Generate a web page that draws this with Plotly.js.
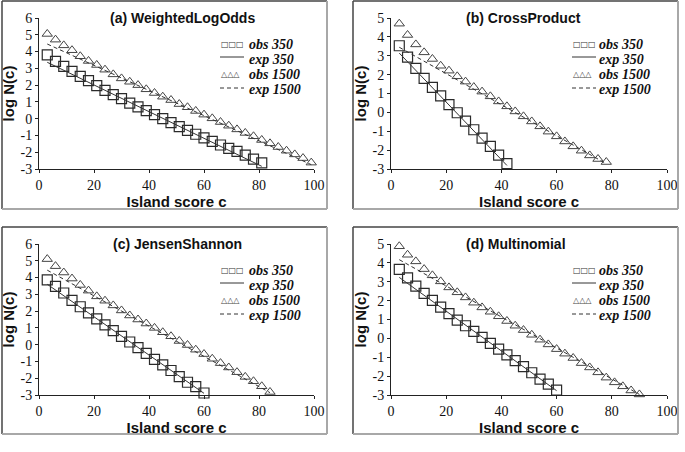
<!DOCTYPE html>
<html>
<head>
<meta charset="utf-8">
<script src="https://cdn.plot.ly/plotly-3.0.1.min.js"></script>
<style>html,body{margin:0;padding:0;background:#fff;}#chart{width:685px;height:452px;}</style>
</head>
<body>
<div id="chart"></div>
<script>
// ---- data ----
const scoreX = [3,6,9,12,15,18,21,24,27,30,33,36,39,42,45,48,51,54,57,60,63,66,69,72,75,78,81,84,87,90,93,96,99];

const panelTitles = ["(a) WeightedLogOdds", "(b) CrossProduct", "(c) JensenShannon", "(d) Multinomial"];
const legendLabels = ["obs 350", "exp 350", "obs 1500", "exp 1500"];
const xTickVals = [0,20,40,60,80,100];
const xTickText = ["0","20","40","60","80","100"];
const yTickVals6 = [-3,-2,-1,0,1,2,3,4,5,6];
const yTickText6 = ["-3","-2","-1","0","1","2","3","4","5","6"];
const yTickVals5 = [-3,-2,-1,0,1,2,3,4,5];
const yTickText5 = ["-3","-2","-1","0","1","2","3","4","5"];

// (a) WeightedLogOdds
const aObs350 = [3.8,3.42,3.12,2.82,2.52,2.27,1.97,1.69,1.43,1.19,0.93,0.70,0.48,0.24,0.0,-0.24,-0.48,-0.70,-0.93,-1.15,-1.35,-1.57,-1.77,-1.95,-2.17,-2.41,-2.64];
const aObs1500 = [5.05,4.71,4.37,4.08,3.72,3.44,3.2,2.92,2.64,2.40,2.2,2.0,1.75,1.53,1.31,1.11,0.87,0.68,0.46,0.24,0.02,-0.2,-0.42,-0.64,-0.85,-1.05,-1.27,-1.47,-1.69,-1.91,-2.13,-2.35,-2.62];
const aExp350X = [3,81], aExp350Y = [3.36,-2.84];
const aExp1500X = [3,99], aExp1500Y = [4.45,-2.74];

// (b) CrossProduct
const bObs350 = [3.53,2.93,2.33,1.80,1.32,0.87,0.41,-0.02,-0.46,-0.92,-1.36,-1.80,-2.26,-2.72];
const bObs1500 = [4.70,4.10,3.60,3.18,2.83,2.47,2.21,1.91,1.63,1.34,1.10,0.85,0.58,0.32,0.05,-0.21,-0.48,-0.74,-1.02,-1.27,-1.54,-1.80,-2.03,-2.28,-2.47,-2.63];
const bExp350X = [3,42], bExp350Y = [3.14,-2.81];
const bExp1500X = [3,78], bExp1500Y = [3.45,-2.72];

// (c) JensenShannon
const cObs350 = [3.86,3.48,3.08,2.64,2.26,1.90,1.54,1.18,0.84,0.50,0.16,-0.18,-0.52,-0.88,-1.20,-1.54,-1.90,-2.24,-2.50,-2.88];
const cObs1500 = [5.1,4.68,4.30,3.94,3.56,3.22,2.88,2.62,2.34,2.04,1.74,1.50,1.26,1.00,0.74,0.50,0.22,-0.02,-0.30,-0.56,-0.84,-1.10,-1.36,-1.64,-1.92,-2.18,-2.48,-2.82];
const cExp350X = [3,60], cExp350Y = [3.6,-2.9];
const cExp1500X = [3,84], cExp1500Y = [4.44,-2.86];

// (d) Multinomial
const dObs350 = [3.66,3.20,2.77,2.38,2.01,1.66,1.31,0.97,0.67,0.37,0.05,-0.27,-0.57,-0.87,-1.18,-1.50,-1.82,-2.16,-2.42,-2.74];
const dObs1500 = [4.88,4.43,4.08,3.67,3.34,3.02,2.70,2.44,2.17,1.89,1.64,1.41,1.17,0.92,0.67,0.44,0.19,-0.07,-0.32,-0.57,-0.81,-1.04,-1.31,-1.54,-1.80,-2.08,-2.33,-2.54,-2.76,-2.97];
const dExp350X = [3,60], dExp350Y = [3.23,-2.77];
const dExp1500X = [3,90], dExp1500Y = [4.17,-2.97];

const panels = [
  {obs350:aObs350, obs1500:aObs1500, e350x:aExp350X, e350y:aExp350Y, e1500x:aExp1500X, e1500y:aExp1500Y, ymax:6},
  {obs350:bObs350, obs1500:bObs1500, e350x:bExp350X, e350y:bExp350Y, e1500x:bExp1500X, e1500y:bExp1500Y, ymax:5},
  {obs350:cObs350, obs1500:cObs1500, e350x:cExp350X, e350y:cExp350Y, e1500x:cExp1500X, e1500y:cExp1500Y, ymax:6},
  {obs350:dObs350, obs1500:dObs1500, e350x:dExp350X, e350y:dExp350Y, e1500x:dExp1500X, e1500y:dExp1500Y, ymax:5}
];

// ---- layout geometry (pixels) ----
const W = 685, H = 452;
const px = v => v / W;
const py = v => 1 - v / H;
const geo = [
  {x0:39, x1:314, yt:18, yb:169, frame:[2,1,327,209], title:[183,18], leg:[220,247,[44,59,74,89]]},
  {x0:391, x1:667, yt:18, yb:169, frame:[353,1,678,209], title:[523,18], leg:[572,597,[44,59,74,89]]},
  {x0:39, x1:314, yt:244, yb:395, frame:[2,227,327,434], title:[177,244], leg:[220,247,[270,285,300,315]]},
  {x0:391, x1:667, yt:244, yb:395, frame:[353,227,678,434], title:[516,244], leg:[572,597,[270,285,300,315]]}
];

const serif = "Liberation Serif, Times New Roman, serif";
const tickFont = {family: serif, size: 14, color: "#111", weight: "normal", style: "normal"};
const axTitleFont = {family:"Liberation Sans, Arial, sans-serif", size:15, color:"#111", weight:"bold"};
const legFont = {family: serif, size:14, color:"#111", weight:"bold", style:"italic"};

const traces = [];
const layout = {
  width: W, height: H,
  margin: {l:0, r:0, t:0, b:0},
  font: {family: serif, size: 14, color: "#111"},
  paper_bgcolor: "#fff", plot_bgcolor: "#fff",
  showlegend: false,
  shapes: [], annotations: []
};

panels.forEach((p, i) => {
  const n = i + 1;
  const xa = n === 1 ? "x" : "x" + n;
  const ya = n === 1 ? "y" : "y" + n;
  traces.push({
    x: scoreX.slice(0, p.obs350.length), y: p.obs350, xaxis: xa, yaxis: ya,
    type: "scatter", mode: "markers", name: legendLabels[0], cliponaxis: false,
    marker: {symbol: "square-open", size: 10, color: "#2a2a2a", line: {width: 1.2}}
  });
  traces.push({
    x: p.e350x, y: p.e350y, xaxis: xa, yaxis: ya,
    type: "scatter", mode: "lines", name: legendLabels[1],
    line: {color: "#333", width: 1}
  });
  traces.push({
    x: scoreX.slice(0, p.obs1500.length), y: p.obs1500, xaxis: xa, yaxis: ya,
    type: "scatter", mode: "markers", name: legendLabels[2], cliponaxis: false,
    marker: {symbol: "triangle-up-open", size: 9, color: "#444", line: {width: 1}}
  });
  traces.push({
    x: p.e1500x, y: p.e1500y, xaxis: xa, yaxis: ya,
    type: "scatter", mode: "lines", name: legendLabels[3],
    line: {color: "#333", width: 1, dash: "4px,3px"}
  });

  const g = geo[i];
  const axCommon = {
    showline: true, linecolor: "#222", linewidth: 1,
    ticks: "outside", ticklen: 3, tickcolor: "#222", tickwidth: 1,
    showgrid: false, zeroline: false, tickfont: tickFont, fixedrange: true
  };
  layout["xaxis" + (n === 1 ? "" : n)] = Object.assign({}, axCommon, {
    domain: [px(g.x0), px(g.x1)], anchor: ya, range: [0, 100],
    tickmode: "array", tickvals: xTickVals, ticktext: xTickText,
    title: {text: "Island score c", font: axTitleFont, standoff: 4}
  });
  layout["yaxis" + (n === 1 ? "" : n)] = Object.assign({}, axCommon, {
    domain: [py(g.yb), py(g.yt)], anchor: xa, range: [-3, p.ymax],
    tickmode: "array",
    tickvals: p.ymax === 6 ? yTickVals6 : yTickVals5,
    ticktext: p.ymax === 6 ? yTickText6 : yTickText5,
    title: {text: "log N(c)", font: axTitleFont, standoff: 2}
  });

  // panel title
  layout.annotations.push({
    xref: "paper", yref: "paper", x: px(g.title[0]), y: py(g.title[1]),
    text: panelTitles[i], showarrow: false, xanchor: "center", yanchor: "middle",
    font: {family: "Liberation Sans, Arial, sans-serif", size: 14, color: "#111", weight: "bold"}
  });

  // legend (drawn as text + sample lines)
  const [sx, tx, rows] = g.leg;
  layout.annotations.push({
    xref:"paper", yref:"paper", x:px(sx - 1), y:py(rows[0]), text:"\u25A1\u25A1\u25A1",
    showarrow:false, xanchor:"left", yanchor:"middle",
    font:{family:"DejaVu Sans, sans-serif", size:8, color:"#333"}
  });
  layout.annotations.push({
    xref:"paper", yref:"paper", x:px(sx - 1), y:py(rows[2]), text:"\u25B3\u25B3\u25B3",
    showarrow:false, xanchor:"left", yanchor:"middle",
    font:{family:"DejaVu Sans, sans-serif", size:8, color:"#444"}
  });
  layout.shapes.push({type:"line", xref:"paper", yref:"paper",
    x0:px(sx), x1:px(sx+24), y0:py(rows[1]-2), y1:py(rows[1]-2), line:{color:"#333", width:1}});
  layout.shapes.push({type:"line", xref:"paper", yref:"paper",
    x0:px(sx), x1:px(sx+24), y0:py(rows[3]-1), y1:py(rows[3]-1), line:{color:"#333", width:1, dash:"4px,3px"}});
  legendLabels.forEach((lab, k) => {
    layout.annotations.push({
      xref:"paper", yref:"paper", x:px(tx), y:py(rows[k]), text:lab,
      showarrow:false, xanchor:"left", yanchor:"middle", font:legFont
    });
  });

  // frame
  const [fx0, fy0, fx1, fy1] = g.frame;
  const dark = {color:"#444", width:1.5};
  const light = {color:"#a8a8a8", width:2};
  layout.shapes.push({type:"line", xref:"paper", yref:"paper", x0:px(fx0), x1:px(fx1), y0:py(fy0), y1:py(fy0), line:dark});
  layout.shapes.push({type:"line", xref:"paper", yref:"paper", x0:px(fx0), x1:px(fx0), y0:py(fy0), y1:py(fy1), line:dark});
  layout.shapes.push({type:"line", xref:"paper", yref:"paper", x0:px(fx1), x1:px(fx1), y0:py(fy0), y1:py(fy1), line:light});
  layout.shapes.push({type:"line", xref:"paper", yref:"paper", x0:px(fx0), x1:px(fx1), y0:py(fy1), y1:py(fy1), line:light});
});

Plotly.newPlot("chart", traces, layout, {displayModeBar: false, staticPlot: true});
</script>
</body>
</html>
